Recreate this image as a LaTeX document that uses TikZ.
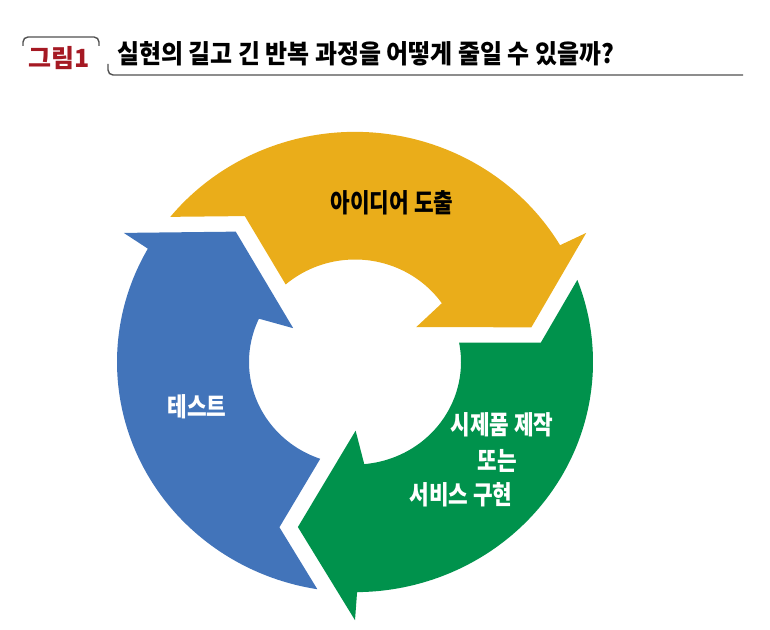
\documentclass[tikz,border=0pt]{standalone}
\usepackage{fontspec}
\newfontfamily\krfont[FakeStretch=0.82]{Noto Sans CJK KR}
\newfontfamily\krwide[FakeStretch=0.92]{Noto Sans CJK KR}
\newfontfamily\krplain{Noto Sans CJK KR}
\definecolor{ideagold}{RGB}{234,173,26}
\definecolor{testblue}{RGB}{66,116,186}
\definecolor{buildgreen}{RGB}{0,146,76}
\definecolor{figred}{RGB}{165,25,35}
\definecolor{ruleline}{RGB}{80,80,80}

\tikzset{
  steptext/.style={font=\krfont\bfseries\fontsize{26}{30}\selectfont, inner sep=0pt},
  titletext/.style={font=\krwide\bfseries\fontsize{26}{30}\selectfont, inner sep=0pt},
  ruler/.style={draw=ruleline, line width=1.4pt, rounded corners=5pt}
}

% one ring segment with its head, drawn for the 'idea' position
\newcommand{\cyclearrow}[1]{%
  \fill[#1] (140.9:238) arc[start angle=140.9, end angle=30.5, radius=238]
    -- (30:267) -- (11.5:180) -- (30.5:71) -- (35:106)
    arc[start angle=35, end angle=130.85, radius=106]
    -- (-110.2,150.9) -- cycle;}

\begin{document}
\begin{tikzpicture}[x=1pt,y=1pt]
    \useasboundingbox (0,0) rectangle (770,629);

    % heading
    \draw[ruler] (23,583) -- (23,592) -- (99,592) -- (99,583);
    \node[titletext, font=\krplain\bfseries\fontsize{25}{30}\selectfont, text=figred] (fignum) at (59,571) {그림1};
    \node[titletext, anchor=west] (figtitle) at (117,575) {실현의 길고 긴 반복 과정을 어떻게 줄일 수 있을까?};
    \draw[ruler] (108,565) -- (108,554) -- (743,554);

    % the three arrows of the cycle
    \begin{scope}[shift={(355,267)}, yscale=0.967]
        \cyclearrow{ideagold}
        \begin{scope}[rotate=-120]
            \cyclearrow{buildgreen}
        \end{scope}
        \begin{scope}[rotate=120]
            \cyclearrow{testblue}
        \end{scope}
    \end{scope}

    \node[steptext] (idea) at (392,426) {아이디어 도출};
    \node[steptext, text=white] (test) at (197,222) {테스트};
    \node[steptext, text=white] (build1) at (502,204) {시제품 제작};
    \node[steptext, text=white] (build2) at (497,168) {또는};
    \node[steptext, text=white] (build3) at (461,134) {서비스 구현};
\end{tikzpicture}
\end{document}
